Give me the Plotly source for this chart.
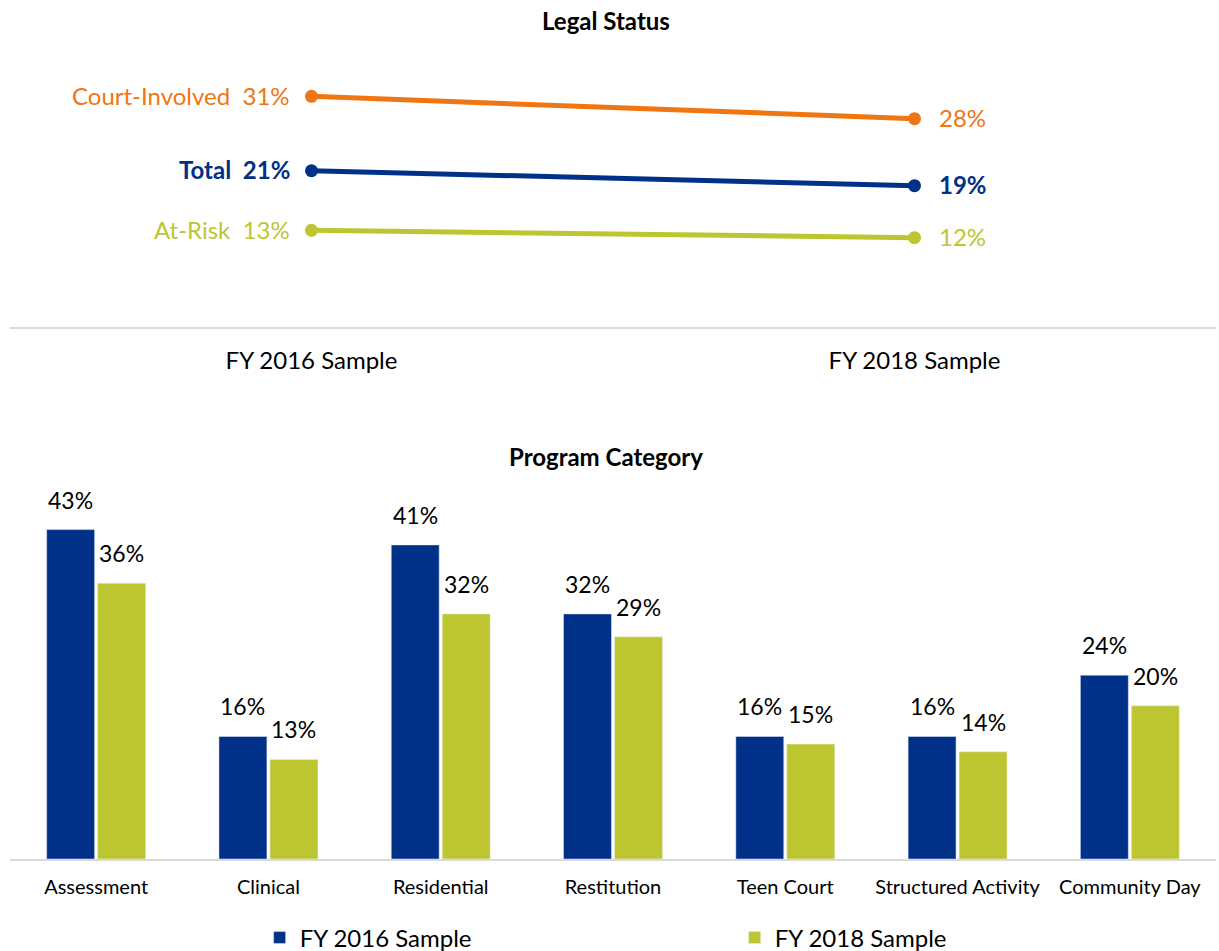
import plotly.graph_objects as go

# Legal status (slope chart)
samples = ["FY 2016 Sample", "FY 2018 Sample"]
status_names = ["Court-Involved", "Total", "At-Risk"]
court_involved = [31, 28]
total = [21, 19]
at_risk = [13, 12]

# Program category (grouped bars)
programs = ["Assessment", "Clinical", "Residential", "Restitution",
            "Teen Court", "Structured Activity", "Community Day"]
fy2016 = [43, 16, 41, 32, 16, 16, 24]
fy2018 = [36, 13, 32, 29, 15, 14, 20]

ORANGE = "#F07613"
NAVY = "#003087"
LIME = "#BDC630"
FONT = "Lato"

fig = go.Figure()

status_series = [
    (status_names[0], court_involved, ORANGE, False),
    (status_names[1], total, NAVY, True),
    (status_names[2], at_risk, LIME, False),
]

annotations = []
for name, vals, color, bold in status_series:
    fig.add_trace(go.Scatter(
        x=samples, y=vals, mode="lines+markers",
        line=dict(color=color, width=5),
        marker=dict(color=color, size=13),
        showlegend=False, hoverinfo="skip",
        xaxis="x", yaxis="y",
    ))
    wrap = (lambda s: f"<b>{s}</b>") if bold else (lambda s: s)
    annotations.append(dict(
        x=samples[0], y=vals[0], xref="x", yref="y",
        text=wrap(f"{name}&nbsp;&nbsp;{vals[0]}%"),
        showarrow=False, xanchor="right", yanchor="middle",
        xshift=-20, yshift=1,
        font=dict(family=FONT, size=24, color=color),
    ))
    annotations.append(dict(
        x=samples[1], y=vals[1], xref="x", yref="y",
        text=wrap(f"{vals[1]}%"),
        showarrow=False, xanchor="left", yanchor="middle",
        xshift=22, yshift=1,
        font=dict(family=FONT, size=24, color=color),
    ))

fig.add_trace(go.Bar(
    x=programs, y=fy2016, name="FY 2016 Sample",
    marker=dict(color=NAVY), xaxis="x2", yaxis="y2", hoverinfo="skip",
))
fig.add_trace(go.Bar(
    x=programs, y=fy2018, name="FY 2018 Sample",
    marker=dict(color=LIME), xaxis="x2", yaxis="y2", hoverinfo="skip",
))

# value labels above each bar
for prog, a, b in zip(programs, fy2016, fy2018):
    for val, shift in ((a, -25.5), (b, 25.5)):
        annotations.append(dict(
            x=prog, y=val, xref="x2", yref="y2",
            text=f"{val}%", showarrow=False,
            xanchor="center", yanchor="bottom", xshift=shift, yshift=14,
            font=dict(family=FONT, size=23, color="#000000"),
        ))

# chart titles
annotations.append(dict(
    x=0.4938, y=1 - 21 / 951, xref="paper", yref="paper",
    text="<b>Legal Status</b>", showarrow=False,
    xanchor="center", yanchor="middle",
    font=dict(family=FONT, size=24, color="#000000"),
))
annotations.append(dict(
    x=0.4938, y=1 - 456 / 951, xref="paper", yref="paper",
    text="<b>Program Category</b>", showarrow=False,
    xanchor="center", yanchor="middle",
    font=dict(family=FONT, size=24, color="#000000"),
))

axis_line = dict(showline=True, linecolor="#D9D9D9", linewidth=2,
                 showgrid=False, zeroline=False)

fig.update_layout(
    width=1219, height=951,
    margin=dict(l=10, r=3, t=0, b=0, autoexpand=False),
    paper_bgcolor="white", plot_bgcolor="white",
    font=dict(family=FONT, color="#000000"),
    barmode="group", bargap=0.408, bargroupgap=0.06,
    xaxis=dict(domain=[0, 1], anchor="y", type="category",
               range=[-0.5, 1.5],
               ticks="outside", ticklen=11, tickcolor="rgba(0,0,0,0)",
               tickfont=dict(family=FONT, size=24, color="#000000"),
               **axis_line),
    yaxis=dict(domain=[1 - 327 / 951, 1 - 66.6 / 951], range=[0, 35],
               visible=False, fixedrange=True),
    xaxis2=dict(domain=[0, 1], anchor="y2", type="category",
                range=[-0.5, 6.5],
                ticks="outside", ticklen=9, tickcolor="rgba(0,0,0,0)",
                tickfont=dict(family=FONT, size=20, color="#000000"),
                **axis_line),
    yaxis2=dict(domain=[1 - 859 / 951, 1 - 514.3 / 951], range=[0, 45],
                visible=False, fixedrange=True),
    legend=dict(orientation="h", x=0.207, xanchor="left",
                y=1 - 938 / 951, yanchor="middle",
                entrywidth=430, entrywidthmode="pixels",
                font=dict(family=FONT, size=24, color="#000000"),
                bgcolor="rgba(0,0,0,0)"),
    annotations=annotations,
)

fig.write_html("out.html")
